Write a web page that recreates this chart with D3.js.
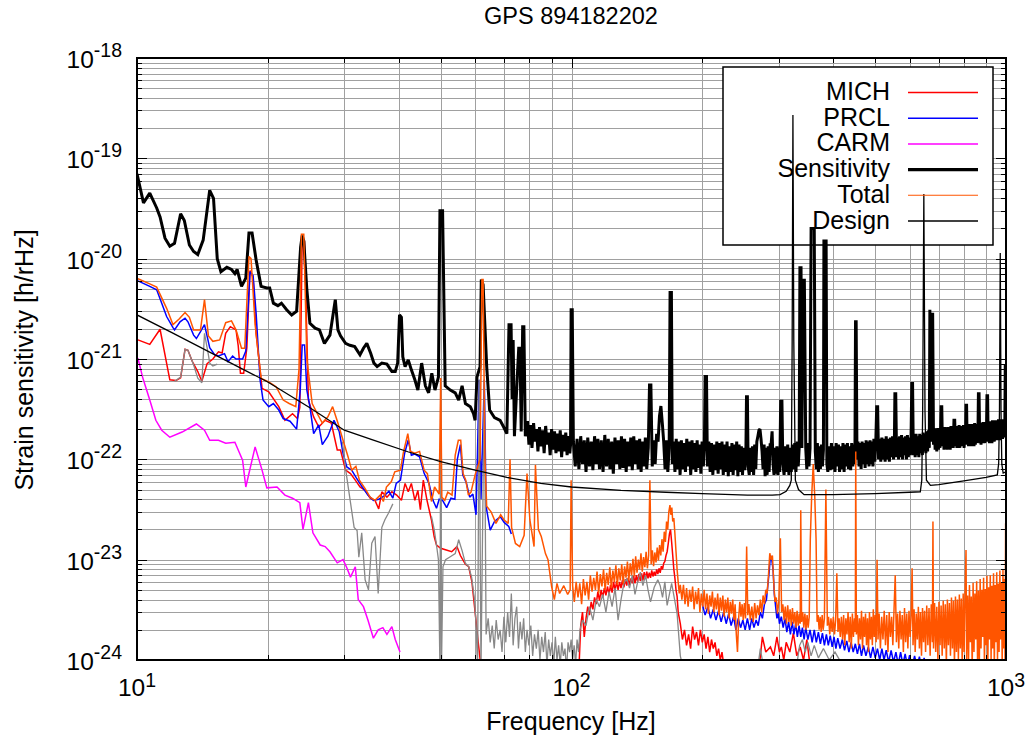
<!DOCTYPE html>
<html>
<head>
<meta charset="utf-8">
<script src="https://cdn.jsdelivr.net/npm/d3@7"></script>
<style>
  body { margin: 0; background: #fff; }
  text { font-family: "Liberation Sans", Arial, Helvetica, sans-serif; fill: #000; }
</style>
</head>
<body>
<svg id="chart" width="1032" height="740"></svg>
<script>
// ---- Spectra: [frequency Hz, strain h/rHz]; null marks a gap in the trace ----
// Low-frequency parts are in h/rHz; the dense high-frequency parts are stored
// in units of 1e-22 (sensitivity) or 1e-24 (noise projections) h/rHz.
const UNIT_22 = 1e-22, UNIT_24 = 1e-24;

const sensitivity = [
[10,7.0e-20],[10.35,3.6e-20],[10.7,4.5e-20],[11.1,3.2e-20],[11.3,2.6e-20],[11.6,1.6e-20],[11.9,1.33e-20],[12.2,1.42e-20],[12.6,2.8e-20],[12.85,2.4e-20],[13.2,1.37e-20],[13.5,1.18e-20],[13.8,1.1e-20],[14.2,1.53e-20],[14.7,4.8e-20],[15.0,4.0e-20],[15.3,1.0e-20],[15.6,7.4e-21],[16.1,8.2e-21],[16.5,7.8e-21],[16.8,7.1e-21],[17.0,7.8e-21],[17.4,5.3e-21],[17.8,6.4e-21],[18.1,1.8e-20],[18.4,1.8e-20],[18.8,9.7e-21],[19.3,5.3e-21],[19.9,5.1e-21],[20.2,5.1e-21],[20.6,3.6e-21],[21.1,3.4e-21],[21.5,3.6e-21],[22.1,3.1e-21],[22.7,2.75e-21],[23.3,3.0e-21],[23.8,1.3e-20],[24.0,1.7e-20],[24.2,1.5e-20],[24.6,4.9e-21],[25.0,2.27e-21],[25.7,2.03e-21],[26.3,1.95e-21],[27.0,1.43e-21],[27.8,1.73e-21],[28.6,3.9e-21],[29.0,1.95e-21],[29.4,1.7e-21],[30.2,1.43e-21],[30.9,1.37e-21],[31.7,1.33e-21],[32.6,1.1e-21],[33.2,1.28e-21],[33.8,1.43e-21],[34.5,1.14e-21],[35.1,9.1e-22],[35.7,8.4e-22],[36.6,9.1e-22],[37.6,8.9e-22],[38.6,7.5e-22],[39.3,7.5e-22],[39.8,9.1e-22],[40.2,2.75e-21],[40.6,2.6e-21],[40.9,1.05e-21],[41.4,8.4e-22],[42.1,9.8e-22],[42.8,7.8e-22],[43.6,6.2e-22],[44.3,4.9e-22],[45.2,9.1e-22],[46.1,5.4e-22],[46.9,4.6e-22],[47.7,7.2e-22],[48.5,4.9e-22],[49.4,6.6e-22],[49.8,3.0e-20],[50.5,3.0e-20],[51.2,5.4e-22],[52.6,4.9e-22],[54.0,4.6e-22],[55.0,3.9e-22],[56.0,5.4e-22],[57.0,3.6e-22],[58.5,3.35e-22],[59.5,2.85e-22],[60.0,2.45e-22],[60.6,6.6e-22],[61.6,8.4e-22],[62.0,6.2e-21],[62.6,5.5e-21],[63.8,8.4e-22],[64.8,3.1e-22],[66.5,2.6e-22],[68.5,2.45e-22],[69.8,2.1e-22],[71.0,1.8e-22],[71.8,2.2e-21],[72.6,2.2e-21],[73.0,4e-22],[73.4,1.55e-21],[73.9,1.7e-22],[74.9,5.7e-22],[75.6,1.28e-21],[76.1,1.28e-21],[76.6,1.9e-22],[77.2,2.1e-21],[77.7,2.1e-21],[78.3,1.7e-22]
];
const sensitivityHF = [ // x 1e-22
[79.2,2.4],[79.8,1.4],[80.5,2.2],[81.1,1.3],[81.8,2.3],[82.4,1.5],[83.1,2.0],[83.7,1.2],[84.4,2.1],[85.1,1.35],[85.8,1.95],[86.5,1.15],[87.2,2.15],[87.9,1.4],[88.6,1.85],[89.3,1.1],[90.0,2.0],[90.7,1.25],[91.4,1.9],[92.1,1.15],[92.8,1.8],[93.5,1.2],[94.2,1.95],[94.9,1.05],[95.6,1.75],[96.3,1.2],[97.0,1.85],[97.7,1.1],[98.4,1.7],[99.1,1.15],[99.5,1.4],[99.8,31],[100.4,31],
[101,1.5],[102,0.85],[103,1.6],[104,0.8],[105,1.7],[106,0.9],[107,1.55],[108,0.75],[109,1.65],[110,0.85],[111,1.5],[112,0.78],[113,1.7],[114,0.9],[115,1.6],[116,0.8],[117.1,1.55],[118.2,0.75],[119.3,1.75],[120.4,0.85],[121.5,1.6],[122.6,0.8],[123.7,1.5],[124.8,0.72],[125.9,1.65],[127,0.9],[128.1,1.55],[129.2,0.8],[130.3,1.7],[131.4,0.82],[132.5,1.6],[133.6,0.75],[134.7,1.5],[135.8,0.85],[136.9,1.65],[138,0.78],[139.1,1.7],[140.2,0.9],[141.3,1.55],[142.4,0.8],[143.5,1.6],[144.6,0.75],[145.7,1.5],[146.8,0.85],[147.9,1.65],[149,0.8],[150.2,1.3],[151.2,5.5],[152.3,5.5],[153.4,0.85],[154.6,1.55],[155.8,0.9],[157,1.8],[158.2,1.5],[159.4,2.7],[160.6,3.4],[161.8,2.3],[163,1.5],[164.2,0.8],[165.4,1.55],[166.6,0.75],[167.8,1.3],[168.6,46],[169.8,46],[170.6,0.9],[171.8,1.5],[173,0.75],[174.2,1.6],[175.4,0.8],[176.6,1.5],[177.8,0.7],[179,1.55],[180.3,0.8],[181.6,1.45],[182.9,0.75],[184.2,1.6],[185.5,0.85],[186.8,1.5],[188.1,0.7],[189.4,1.55],[190.7,0.8],[192,1.45],[193.3,0.75],[194.6,1.55],[195.9,0.82],[197.2,1.4],[198.5,0.72],[199.8,1.5],[201.1,0.85],[202.2,1.3],[203,6.7],[204.5,6.7],[205.5,0.85],[207,1.5],[208.5,0.75],[210,1.45],[211.5,0.7],[213,1.4],[214.5,0.78],[216,1.5],[217.5,0.72],[219,1.45],[220.5,0.8],[222,1.5],[223.5,0.7],[225,1.4],[226.5,0.75],[228,1.5],[229.5,0.68],[231,1.35],[232.5,0.75],[234,1.45],[235.5,0.7],[237,1.4],[238.5,0.78],[240,1.5],[241.5,0.68],[243,1.4],[244.5,0.75],[246,1.35],[247.5,0.7],[249,1.3],[250.5,0.78],[252,1.2],[252.8,4.2],[254,4.2],[255,0.85],[256.5,0.7],[258,1.3],[259.5,0.75],[261,1.35],[262.5,0.7],[264,1.4],[265.5,0.8],[267,1.5],[268.5,1.7],[270,1.95],[271.5,2.0],[273,1.6],[274.5,1.2],[276,0.8],[277.5,1.4],[279,0.68],[280.5,1.3],[282,0.7],[283.5,1.35],[285,0.75],[286.5,1.4],[288,1.4],[289.5,1.9],[291,0.9],[292.5,0.7],[294,1.3],[295.5,0.72],[297,1.35],[298.5,0.7],[300,1.3],[301.5,0.75],[303,3.8],[305,3.8],[306.5,0.9],[308.5,0.7],[310.5,1.35],[312.5,0.75],[314.5,1.4],[316.5,0.7],[318.5,1.3],[320.5,0.75],[322.5,1.4],[324.5,0.8],[326.5,1.45],[328.5,0.75],[330.5,1.5],[332.5,0.85],[334.2,1.3],[335.5,81],[337.5,81],[339,1.3],[341,61],[343.5,61],[346,1.3],[348,0.8],[350,1.45],[352,0.85],[354,1.3],[356,200],[362,200],[364,1.2],[366,0.8],[368,1.45],[370,0.75],[372,1.35],[374,0.8],[376,1.4],[378,0.85],[380,1.25],[381,150],[385.5,150],[387,0.9],[389,0.75],[391.5,1.35],[394,0.78],[396.5,1.45],[399,0.8],[401.5,1.35],[404,0.75],[406.5,1.45],[409,0.85],[411.5,1.4],[414,0.75],[416.5,1.35],[419,0.8],[421.5,1.45],[424,0.75],[426.5,1.4],[429,0.85],[431.5,1.45],[434,0.8],[436.5,1.35],[439,0.78],[441.5,1.45],[444,0.85],[446.5,1.4],[449,0.9],[450.5,23.5],[452,23.5],[454,1.0],[456.5,1.5],[459,0.85],[461.5,1.45],[464,0.8],[466.5,1.5],[469,0.9],[471.5,1.45],[474,0.82],[476.5,1.55],[479,0.9],[481.5,1.5],[484,0.85],[486.5,1.55],[489,0.9],[491.5,1.5],[494,0.85],[496.5,1.6],[499,0.95],[501.5,1.45],[504,3.35],[506.5,3.35],[509,1.0],[512,1.6],[515,0.95],[518,1.65],[521,1.0],[524,1.6],[527,0.95],[530,1.7],[533,1.0],[536,1.6],[539,0.95],[542,1.65],[545,1.05],[548,1.7],[551,1.0],[553.5,1.5],[555,4.5],[557.5,4.5],[560,1.05],[563,1.65],[566,1.0],[569,1.7],[572,1.05],[575,1.75],[578,1.0],[581,1.65],[584,1.1],[587,1.7],[590,1.0],[593,1.75],[596,1.05],[599,1.65],[602,1.1],[604.5,1.6],[607,5.7],[609.5,5.7],[612,1.1],[615,1.75],[618,1.05],[621,1.8],[624,1.1],[627,1.7],[630,1.05],[633,1.8],[636,1.15],[639,1.75],[642,1.1],[645,1.85],[648,1.2],[651,1.8],[654,1.15],[657,1.9],[660,1.2],[663,1.95],[666,1.3],[668,31],[671,1.5],[674,28],[678,28],[681,1.4],[684,2.05],[687,1.25],[690,2.0],[693,1.2],[696,2.05],[699,1.25],[702,1.95],[705,1.3],[707,1.9],[709,3.35],[711.5,3.35],[714,1.35],[717,2.05],[720,1.25],[723,2.1],[726,1.3],[729,2.0],[732,1.25],[735,2.1],[738,1.35],[741,2.05],[744,1.25],[747,2.15],[750,1.35],[753,2.05],[756,1.3],[759,2.45],[762,2.45],[765,1.35],[768,2.15],[771,1.3],[774,2.1],[777,1.35],[780,2.2],[783,1.3],[786,2.1],[789,1.4],[792,2.15],[795,1.35],[798,2.2],[801,1.3],[804,2.15],[806.5,1.45],[809,3.45],[811.5,3.45],[814,1.4],[817,2.2],[820,1.35],[823,2.25],[826,1.4],[829,2.15],[832,1.35],[835,2.25],[838,1.45],[841,2.2],[844,1.35],[847,2.3],[850,1.4],[853,2.2],[856,1.45],[859,2.25],[861.5,1.5],[864,4.5],[867,4.5],[870,1.45],[873,2.3],[876,1.4],[879,2.25],[882,1.45],[885,2.35],[888,1.5],[891,2.25],[894,1.45],[897,2.35],[900,1.5],[902,2.1],[904,4.3],[907,4.3],[910,1.5],[913,2.35],[916,1.45],[919,2.4],[922,1.5],[925,2.35],[928,1.45],[931,2.45],[934,1.55],[937,2.35],[940,1.5],[943,2.45],[946,1.55],[949,2.4],[952,1.6],[955,2.45],[958,1.55],[961,2.5],[964,1.6],[967,2.45],[970,1.55],[973,2.5],[976,1.65],[979,2.45],[982,1.6],[985,2.5],[988,1.65],[991,2.45],[993.5,1.7],[996,8.4],[999,8.4],[1000,2.1]
];

const total = [
[10.05,6.3e-21],[10.7,5.6e-21],[11.1,5.2e-21],[11.7,3.2e-21],[12.1,2.2e-21],[12.5,2.5e-21],[12.9,2.9e-21],[13.2,2.6e-21],[13.5,1.95e-21],[14.0,1.95e-21],[14.3,3.9e-21],[14.6,1.7e-21],[14.95,1.5e-21],[15.5,1.55e-21],[16.0,2.3e-21],[16.5,2.4e-21],[16.9,1.95e-21],[17.4,1.28e-21],[17.7,1.28e-21],[18.1,1.05e-20],[18.3,1.0e-20],[18.7,2.2e-21],[19.3,6.4e-22],[20.1,5.9e-22],[20.9,5.3e-22],[21.7,3.9e-22],[22.4,3.6e-22],[23.2,3.35e-22],[23.6,8e-22],[23.9,1.75e-20],[24.2,1.75e-20],[24.6,1.0e-21],[25.3,3.6e-22],[26.0,2.85e-22],[26.7,2.3e-22],[27.5,2.65e-22],[28.2,3.35e-22],[29.0,2.3e-22],[29.8,1.55e-22],[30.6,1.06e-22],[31.2,7.8e-23],[31.9,8.5e-23],[32.5,6.2e-23],[33.5,5.1e-23],[34.4,4.2e-23],[35.3,3.9e-23],[36.3,4.4e-23],[36.9,3.8e-23],[37.5,5.3e-23],[38.5,6.0e-23],[39.2,7.5e-23],[40.4,7.8e-23],[41.0,1.15e-22],[42.0,1.8e-22],[42.6,1.2e-22],[43.6,1.15e-22],[44.7,1.2e-22],[45.8,7.8e-23],[46.6,7.2e-23],[47.6,3.8e-23],[48.4,5.3e-23],[49.6,4.5e-23],[50.0,6.45e-22],[50.3,4.2e-23],[51.1,3.9e-23],[51.9,4.7e-23],[53.1,4.4e-23],[54.0,1.1e-22],[54.9,1.55e-22],[55.6,1.55e-22],[56.3,7.2e-23],[57.1,6.2e-23],[57.9,4.4e-23],[58.7,4.7e-23],[60.0,7e-23],[61.6,1e-22],[62.2,6.2e-21],[62.6,6.2e-21],[63.2,1e-22],[63.8,3.4e-23],[65.3,3.0e-23],[67.0,2.3e-23],[68.7,2.8e-23],[69.9,2.5e-23],[71.5,2.3e-23],[72.2,1.0e-22],[72.8,2.1e-23],[74.3,1.45e-23],[76.0,1.35e-23],[77.8,1.75e-23],[79.0,7.2e-23],[80.2,2.5e-23],[82.0,1.35e-23],[82.6,8.8e-23],[83.9,2.0e-23],[85.2,1.7e-23],[87.1,1.15e-23],[88.3,1.0e-23],[90.0,5.4e-24],[91.3,4.0e-24],[92.6,5.8e-24],[93.9,4.6e-24],[96,5.5e-24],[98,4.5e-24],[99.3,5e-24],[99.8,6.2e-23]
];
const totalHF = [ // x 1e-24
[100.6,5.5],[101.5,3.8],[102.5,6.0],[103.5,4.2],[104.5,5.8],[105.5,3.6],[106.5,6.4],[107.5,4.4],[108.5,6.0],[109.5,4.0],[110.5,7.0],[111.5,4.8],[112.5,6.6],[113.5,5.0],[114.5,7.6],[115.5,4.6],[116.5,7.2],[117.5,5.4],[118.5,8.0],[119.5,5.0],[120.5,7.4],[121.5,5.6],[122.5,8.4],[123.5,5.2],[124.5,7.8],[125.5,6.0],[126.5,8.8],[127.5,5.6],[128.5,8.2],[129.5,6.2],[130.5,9.0],[131.5,5.8],[132.5,8.6],[133.5,6.6],[134.5,9.6],[135.5,6.2],[136.5,9.2],[137.5,7.0],[138.5,10.2],[139.5,6.8],[140.5,10.8],[141.5,7.4],[142.5,10.0],[143.5,8.0],[144.5,11.6],[145.5,7.6],[146.5,10.6],[147.5,8.4],[148.5,12.0],[149.5,8.2],[150.5,11.0],[151.5,62],[152.5,9.0],[153.5,12.4],[154.5,8.6],[155.5,11.8],[156.5,9.4],[157.5,13.2],[158.5,9.8],[159.5,14.0],[160.5,11.0],[161.5,16.0],[162.5,12.0],[163.5,19.0],[164.5,15.0],[165.5,24.0],[166.5,20.0],[167.5,30.0],[168.5,35.0],[169.3,28.0],[170.2,33.0],[171,24.0],[172,26.0],[173,18.0],[174,12.0],[175,8.0],[176,6.0],[177,4.6],[178,5.6],
[179.5,4.0],[181,5.6],[182.5,3.6],[184,5.2],[185.5,3.4],[187,5.0],[188.5,3.8],[190,5.4],[191.5,3.2],[193,4.8],[194.5,3.6],[196,5.2],[197.5,3.0],[199,4.6],[200.5,3.4],[202,5.0],[203.5,3.2],[205,4.6],[206.5,2.9],[208,4.4],[209.5,3.4],[211,4.8],[212.5,3.0],[214,4.2],[215.5,3.2],[217,4.6],[218.5,2.8],[220,4.2],[221.5,3.1],[223,4.4],[224.5,2.7],[226,4.0],[227.5,3.0],[229,4.2],[230.5,2.6],[232,3.8],[233.5,2.9],[235,4.0],[236.5,2.5],[238,3.6],[239.5,1.8],[241,1.2],[242.5,2.6],[244,3.8],[245.5,2.7],[247,3.6],[248.5,2.5],[250,3.7],[251.5,2.6],[253,13.5],[254.5,2.8],
[256,3.6],[258,2.5],[260,3.4],[262,2.4],[264,3.7],[266,2.6],[268,3.5],[270,2.8],[272,4.0],[274,3.0],[276,4.4],[278,3.6],[280,5.0],[282,4.6],[284,7.0],[286,11.6],[288,10.0],[290,11.0],[292,6.0],[294,3.8],[296,4.2],[298,2.9],[300,3.8],[302.5,16.3],[304.5,3.0],[306.5,3.6],[308.5,2.5],[310.5,3.4],[312.5,2.3],[314.5,3.5],[316.5,2.4],[318.5,3.2],[320.5,2.2],[322.5,3.3],[324.5,2.3],[326.5,3.0],[328.5,2.1],[330.5,3.1],[332.5,2.2],[334.5,2.9],[336,2.3],[337,31],[338.5,2.4],[340.5,3.0],[342.5,2.1],[344.5,2.9],[346.5,2.0],[348.5,2.8],[350.5,2.1],[352.5,2.7],[354.5,16],[357,42],[360,90],[363,42],[365.5,16],[367.5,2.4],[369.5,2.8],[371.5,2.0],[373.5,2.7],[375.5,1.9],[377.5,2.8],[379.5,2.0],[382,2.6],[385,50],[388,2.2],[390.5,2.7],[393,1.8],[395.5,2.6],[398,1.9],[400.5,2.7],[403,1.8],[405.5,2.5],[408,7.3],[410.5,1.9],[413,2.6],[415.5,1.7],[418,2.7],
[420.5,1.6],[423,2.8],[425.5,1.4],[428,2.6],[430.5,1.8],[433,3.0],[435.5,1.5],[438,2.7],[440.5,1.3],[443,2.9],[445.5,1.7],[448,2.6],[450,1.9],[451,120],[452.5,1.8],[455,2.8],[457.5,1.4],[460,2.6],[462.5,1.6],[465,3.1],[467.5,1.3],[470,2.7],[472.5,1.7],[475,2.9],[477.5,1.4],[480,2.6],[482.5,1.2],[485,3.0],[487.5,1.6],[490,2.7],[492.5,1.4],[495,3.2],[497.5,1.7],[500,2.8],[502.5,1.5],[505,10],[507.5,1.6],
[510.5,2.9],[514,1.3],[517.5,2.7],[521,1.6],[524.5,3.1],[528,1.4],[531.5,2.8],[535,1.2],[538.5,3.0],[542,1.7],[545.5,2.7],[549,1.4],[552.5,3.2],[556,7.0],[559.5,1.5],[563,2.9],[566.5,1.3],[570,3.1],[573.5,1.6],[577,2.8],[580.5,1.2],[584,3.3],[587.5,1.5],[591,2.9],[594.5,1.3],[598,3.1],[601.5,1.7],[605,2.8],[608,8.2],[611,1.4],[614.5,3.2],[618,1.2],[621.5,2.9],[625,1.6],[628.5,3.4],[632,1.3],[635.5,3.0],[639,1.1],[642.5,3.3],[646,1.5],[649.5,3.1],
[653,1.2],[657,3.5],[661,1.4],[665,3.3],[669,1.1],[673,3.6],[677,1.5],[679,24],[681,1.3],[685,3.7],[689,1.2],[693,3.4],[697,1.0],[701,3.8],[705,1.4],[709,3.5],[713,1.1],[717,3.9],[721,1.3],[725,3.6],[729,0.9],[733,4.0],[737,1.4],[741,3.7],[745,1.1],[749,4.2],[753,1.3],[757,3.9],[761,0.9],[765,4.3],[769,1.2],[773,4.0],[777,1.0],[781,4.5],[785,1.3],[789,4.1],[793,0.9],[797,4.6],[801,1.2],[805,4.4],[809,12.5],[812,1.0],
[816,4.4],[820,1.0],[824,5.6],[828,1.5],[832,4.3],[836,0.8],[840,5.9],[844,1.2],[848,4.6],[852,1.6],[856,6.1],[860,1.0],[864,4.9],[868,0.8],[872,6.4],[876,1.3],[880,5.0],[884,1.7],[888,6.6],[892,0.9],[896,5.1],[900,1.4],[904,6.9],[908,0.8],[912,5.3],[916,1.6],[920,7.0],[924,1.0],[928,5.5],[932,1.3],[936,7.3],[940,0.8],[944,5.6],[948,1.5],[952,7.5],[956,1.0],[960,5.8],[964,1.2],[968,7.8],[972,1.6],[976,6.0],[980,0.9],[984,7.9],[988,1.3],[992,6.4],[995,1.0],[998,23],[1000,6.5]
];

const mich = [
[10.05,1.55e-21],[10.7,1.4e-21],[11.3,1.98e-21],[11.9,6.2e-22],[12.3,6.1e-22],[12.6,6.5e-22],[12.9,1.25e-21],[13.1,1.22e-21],[13.4,9.5e-22],[13.8,7.5e-22],[14.1,6.0e-22],[14.5,9e-22],[14.95,1.0e-21],[15.4,1.18e-21],[15.7,1.15e-21],[16.0,1.8e-21],[16.4,2.1e-21],[16.9,1.95e-21],[17.1,1.35e-21],[17.3,7.2e-22],[17.6,7.2e-22],[17.9,1.3e-21],[18.2,7.6e-21],[18.5,6.5e-21],[18.8,1.8e-21],[19.4,5.1e-22],[20.1,4.7e-22],[21.2,3.35e-22],[21.9,2.45e-22],[22.8,2.85e-22],[23.4,2.55e-22],[23.7,3.3e-22],[24.0,1.6e-20],[24.3,1.5e-20],[24.8,3.9e-22],[25.5,2.65e-22],[26.2,2.1e-22],[27.1,2.45e-22],[28.0,2.3e-22],[28.9,1.24e-22],[29.4,1.24e-22],[30.2,7.8e-23],[31.0,7.2e-23],[31.8,6.2e-23],[32.6,5.3e-23],[33.5,4.9e-23],[34.4,4.1e-23],[35.3,3.9e-23],[36.0,3.2e-23],[36.6,4.75e-23],[37.6,4.2e-23],[38.6,4.75e-23],[39.6,4.4e-23],[40.6,3.9e-23],[41.4,5.75e-23],[42.1,4.75e-23],[42.8,5.75e-23],[43.6,3.9e-23],[44.3,4.9e-23],[44.9,3.15e-23],[45.6,6.2e-23],[46.5,3.9e-23],[47.6,2.5e-23],[48.3,1.7e-23],[48.9,1.4e-23],[50.0,1.3e-23],[51.5,1.25e-23],[53.0,1.2e-23],[54.5,1.35e-23],[55.5,1.1e-23],[57.0,9e-24],[58.0,8.5e-24],[59.0,6e-24],[60.0,3e-24],[61.0,1.5e-24],[62.0,8e-25]
];
const michHF = [ // x 1e-24
[104,0.8],[105,2.2],[106,3.0],[107,1.7],[108,2.6],[109,3.4],[110,2.8],[111,3.8],[112,3.2],[113,4.2],[114,3.6],[115,4.8],[116,3.9],[117,5.0],[118,4.2],[119,5.2],[120,4.4],[121,5.4],[122,4.5],[123,5.6],[124,4.7],[125,6.0],[126,4.9],[127,6.1],[128,5.0],[129,6.0],[130,5.2],[131,6.3],[132,5.3],[133,6.4],[134,5.5],[135,6.6],[136,5.6],[137,6.5],[138,5.8],[139,6.9],[140,5.8],[141,7.0],[142,6.0],[143,7.2],[144,6.1],[145,7.3],[146,6.2],[147,7.5],[148,6.4],[149,7.6],[150,6.5],[151,7.4],[152,6.6],[153,7.8],[154,6.8],[155,7.6],[156,6.9],[157,8.0],[158,7.2],[159,8.2],[160,7.4],[161,8.6],[162,8.0],[163,9.2],[164,9.6],[165,11],[166,12],[167,14.5],[168,18],[169,20],[170,15],[171,11],[172,8],[173,6.5],[174,5.0],[175,4.3],[176,3.0],[178,2.3],[180,1.6],[182,2.0],[184,1.4],[186,1.8],[188,1.3],[190,2.15],[192,1.6],[194,1.9],[196,1.4],[198,2.0],[200,1.5],[202,1.8],[204,1.3],[206,1.7],[208,1.2],[210,1.6],[212,1.3],[214,1.5],[216,1.1],[218,1.3],[220,1.0],[222,1.2],[224,0.9],[227,0.8],[270,0.8],[275,1.7],[280,1.2],[287,1.35],[292,1.1],[297,1.7],[301,1.2],[304,1.35],[308,1.0],[312,1.5],[318,1.2],[324,1.85],[330,1.1],[336,1.35],[342,1.0],[348,1.6],[355,0.8],[1000,0.8]
];

const prcl = [
[10.05,6.0e-21],[10.7,5.3e-21],[11.1,4.9e-21],[11.4,3.6e-21],[11.7,2.65e-21],[12.1,2.05e-21],[12.2,1.95e-21],[12.56,2.35e-21],[12.9,2.55e-21],[13.1,2.35e-21],[13.5,1.73e-21],[13.7,1.6e-21],[14.0,1.87e-21],[14.3,2.2e-21],[14.7,1.3e-21],[15.1,1.1e-21],[15.4,1.07e-21],[15.9,1.13e-21],[16.2,9.4e-22],[16.6,1.07e-21],[16.9,1.0e-21],[17.5,1.0e-21],[17.8,1.2e-21],[18.2,7.4e-21],[18.5,6.8e-21],[18.8,2.85e-21],[19.2,6.2e-22],[19.5,3.9e-22],[20.1,3.35e-22],[20.6,3.6e-22],[21.2,3.1e-22],[21.7,2.55e-22],[22.5,2.4e-22],[23.3,2.0e-22],[23.75,4.9e-22],[24.0,1.38e-21],[24.3,1.38e-21],[24.6,4.9e-22],[25.0,3.35e-22],[25.5,1.8e-22],[26.2,2.2e-22],[26.7,1.4e-22],[27.5,1.7e-22],[28.4,2.45e-22],[29.2,1.9e-22],[29.8,1.15e-22],[30.4,8.4e-23],[31.2,7.8e-23],[32.0,6.5e-23],[33.0,5.3e-23],[34.0,4.4e-23],[35.0,3.9e-23],[36.0,4.0e-23],[37.0,4.3e-23],[38.0,4.8e-23],[38.8,4.1e-23],[39.5,5.76e-23],[40.4,6.2e-23],[41.3,1.15e-22],[42.1,1.56e-22],[42.8,1.1e-22],[43.6,1.13e-22],[44.7,1.06e-22],[45.8,7.25e-23],[47.0,5.75e-23],[48.0,3.9e-23],[48.9,3.25e-23],[49.6,4.0e-23],[50.5,3.9e-23],[51.6,3.3e-23],[52.8,4.1e-23],[53.9,4.0e-23],[54.6,1.0e-22],[55.5,1.4e-22],[56.2,7e-23],[57.3,5.8e-23],[58.3,4.2e-23],[59.3,4.5e-23],[60.3,2.8e-23],[61.3,6.2e-22],[61.9,4e-23],[63.0,6.2e-22],[63.6,3.4e-23],[65.0,1.97e-23],[66.5,2.4e-23],[68.6,2.68e-23],[70.0,2.35e-23],[71.7,2.15e-23],[72.7,1.8e-23],[73.5,null]
];
const prclHF = [ // x 1e-24
[200,3.6],[203,2.8],[206,3.4],[209,2.6],[212,3.2],[215,2.5],[218,3.1],[221,2.4],[224,3.0],[227,2.3],[230,2.9],[233,2.2],[236,2.7],[239,2.0],[242,2.6],[245,2.1],[248,2.5],[251,2.0],[254,2.6],[257,2.0],[260,2.6],[263,2.1],[266,2.5],[269,2.2],[272,3.0],[275,2.6],[278,3.6],[281,4.0],[283,5.5],[285,7.5],[287,11],[289,10],[291,8],[293,4.5],[295,3.4],[297,2.6],[299,3.0],[301,2.3],[304,2.7],[307,2.1],[310,2.6],[313,1.9],[316,2.4],[319,1.8],[322,2.4],[325,1.8],[328,2.3],[331,1.7],[334,2.2],[337,1.7],[340,2.1],[343,1.6],[346,2.1],[350,1.6],[354,2.0],[358,1.5],[362,2.0],[366,1.5],[370,1.9],[374,1.45],[378,1.85],[382,1.4],[386,1.8],[390,1.4],[394,1.75],[398,1.35],[402,1.7],[406,1.3],[410,1.65],[415,1.3],[420,1.6],[425,1.25],[430,1.55],[435,1.2],[440,1.5],[445,1.2],[450,1.45],[455,1.15],[460,1.45],[465,1.1],[470,1.4],[476,1.1],[482,1.35],[488,1.05],[494,1.35],[500,1.05],[506,1.3],[512,1.0],[518,1.3],[524,1.0],[530,1.25],[537,0.95],[544,1.25],[551,0.95],[558,1.2],[565,0.9],[572,1.2],[579,0.9],[586,1.15],[593,0.88],[600,1.12],[608,0.85],[616,1.1],[624,0.85],[632,1.08],[640,0.8],[648,1.05],[656,0.8],[664,1.02],[672,0.78],[680,0.95],[700,0.8],[1000,0.7]
];

const carm = [
[10.05,1.02e-21],[10.3,6.6e-22],[10.7,3.9e-22],[11.05,2.45e-22],[11.4,1.95e-22],[11.9,1.66e-22],[12.7,1.87e-22],[13.7,2.25e-22],[14.3,1.95e-22],[14.7,1.55e-22],[15.4,1.55e-22],[16.0,1.45e-22],[16.8,1.48e-22],[17.5,9.8e-23],[17.8,5.3e-23],[18.7,1.33e-22],[19.4,7.8e-23],[19.9,5.2e-23],[21.0,5.3e-23],[21.9,4.4e-23],[22.8,4.1e-23],[23.7,3.7e-23],[24.1,2.0e-23],[24.8,3.7e-23],[25.4,1.85e-23],[26.4,1.4e-23],[27.1,1.35e-23],[27.8,1.2e-23],[28.9,9.3e-24],[29.8,1.0e-23],[30.4,8.3e-24],[31.0,6.7e-24],[31.8,8.5e-24],[32.3,4.0e-24],[33.2,3.4e-24],[34.0,2.5e-24],[35.0,1.65e-24],[35.9,2.0e-24],[36.8,2.1e-24],[37.6,1.8e-24],[38.6,2.15e-24],[39.3,1.6e-24],[40.3,1.2e-24]
];

// unlabelled grey trace
const other = [
[12.2,6.0e-22],[12.6,6.6e-22],[12.9,1.25e-21],[13.1,1.22e-21],[13.5,8.7e-22],[13.8,6.45e-22],[14.1,5.8e-22],[14.3,1.8e-21],[14.6,1.1e-21],[14.7,9.1e-22],[14.95,8.5e-22],[15.3,8.9e-22],[15.6,null],
[29.7,1.5e-22],[30.3,7.3e-23],[31.0,3.7e-23],[31.6,2.1e-23],[32.1,1.95e-23],[32.4,1.06e-23],[32.9,1.85e-23],[33.5,6.3e-24],[34.1,5.0e-24],[34.7,1.46e-23],[35.3,1.7e-23],[35.9,4.6e-24],[36.6,2.1e-23],[37.2,2.5e-23],[37.9,2.9e-23],[38.8,3.6e-23],[39.5,null],
[47.6,2.7e-23],[48.3,2.0e-23],[48.9,1.4e-23],[49.4,1.0e-23],[49.8,8e-25],[50.0,6.4e-22],[50.2,8e-25],[50.6,8.5e-24],[51.3,1.0e-23],[52.6,1.07e-23],[54.0,1.15e-23],[55.0,1.58e-23],[56.0,1.23e-23],[57.0,9.2e-24],[58.0,8.5e-24],[58.9,6.7e-24],[59.8,4.0e-24],[60.3,2.3e-24],[60.8,8e-25],[61.3,6.2e-22],[61.9,8e-25],[63.0,6.2e-22]
];
const otherHF = [ // x 1e-24
[63.6,1.8],[64.3,2.6],[65,1.5],[65.7,2.2],[66.4,1.3],[67.1,2.5],[67.8,1.6],[68.5,2.0],[69.2,1.2],[69.9,2.7],[70.6,1.5],[71.3,3.0],[72,1.7],[72.7,4.6],[73.4,1.4],[74.1,2.6],[74.8,3.4],[75.5,1.3],[76.2,2.4],[76.9,1.6],[77.6,2.6],[78.3,1.2],[79,2.0],[79.8,1.4],[80.6,2.2],[81.4,1.1],[82.2,1.8],[83,1.3],[83.8,2.0],[84.6,1.0],[85.4,1.7],[86.2,1.2],[87,1.9],[87.8,0.9],[88.6,1.6],[89.4,1.1],[90.2,1.5],[91,0.9],[91.8,1.7],[92.6,1.0],[93.4,1.4],[94.2,0.9],[95,1.5],[95.8,1.1],[96.6,1.3],[97.4,0.8],[98.2,1.5],[99,1.2],[99.8,1.6],[100.6,1.0],[101.4,1.4],[102.2,0.9],[103,1.6],[103.8,1.2],[104.6,2.0],[106,2.5],[108,2.2],[110,3.4],[112,2.5],[114,4.0],[116,3.4],[118,4.5],[120,3.0],[122,4.8],[124,3.4],[126,5.2],[128,2.5],[130,4.0],[132,5.8],[134,6.5],[136,5.2],[138,7.0],[140,4.5],[142,6.0],[144,7.5],[146,5.5],[148,7.0],[150,5.0],[152,3.8],[155,5.3],[158,6.3],[160,5.5],[162,4.2],[164,6.0],[166,3.5],[170,5.8],[172,4.4],[175,2.9],[178,1.1],[181,0.8],[268,0.8],[272,1.3],[276,0.9],[330,0.9],[335,1.4],[340,1.6],[345,1.2],[350,1.5],[356,1.1],[362,1.4],[370,1.05],[380,1.3],[392,1.0],[404,1.2],[420,0.9],[1000,0.8]
];

const design = [
[10,2.75e-21],[12,1.84e-21],[15,1.12e-21],[20,5.9e-22],[25,3.27e-22],[30,1.95e-22],[35,1.55e-22],[42,1.19e-22],[50,9.5e-23],[60,7.8e-23],[71,6.6e-23],[85,5.76e-23],[100,5.3e-23],[130,4.9e-23],[165,4.7e-23],[200,4.55e-23],[254,4.4e-23],[290,4.4e-23],[302,4.45e-23],[312,4.8e-23],[318,5.5e-23],[320.5,6.2e-23],[322,1.5e-21],[323.3,2.7e-19],[324.8,1.5e-21],[327.5,6.2e-23],[333,5.0e-23],[343,4.45e-23],[400,4.45e-23],[500,4.55e-23],[600,4.7e-23],[635,4.75e-23],[640,6.2e-23],[643,3e-22],[647,4.4e-20],[651,3e-22],[656,6.2e-23],[670,5.5e-23],[700,5.6e-23],[800,6.1e-23],[900,6.6e-23],[955,7.0e-23],[962,9.1e-23],[966,3e-22],[970,1.14e-20],[974,3e-22],[978,9e-23],[985,7.3e-23],[1000,7.5e-23]
];

const xTickExponents = [1, 2, 3];
const yTickExponents = [-18, -19, -20, -21, -22, -23, -24];

// ---- Assemble full traces ----
const scaled = (arr, unit) => arr.map(d => [d[0], d[1] * unit]);
const sensitivityTrace = sensitivity.concat(scaled(sensitivityHF, UNIT_22));
const totalTrace = total.concat(scaled(totalHF, UNIT_24));
const michTrace = mich.concat(scaled(michHF, UNIT_24));
const prclTrace = prcl.concat(scaled(prclHF, UNIT_24));
const otherTrace = other.concat(scaled(otherHF, UNIT_24));

const legendEntries = [
  { label: "MICH",        color: "#ff0000", width: 1.5 },
  { label: "PRCL",        color: "#0000ff", width: 1.5 },
  { label: "CARM",        color: "#ff00ff", width: 1.5 },
  { label: "Sensitivity", color: "#000000", width: 3.2 },
  { label: "Total",       color: "#ff5500", width: 1.1 },
  { label: "Design",      color: "#000000", width: 1.3 }
];

// ---- Layout ----
const L = 137, R = 1006, T = 58, B = 660;
const x = d3.scaleLog().domain([10, 1000]).range([L, R]);
const y = d3.scaleLog().domain([1e-24, 1e-18]).range([B, T]);
const svg = d3.select("#chart");
const LABEL_FONT = 25, TICK_FONT = 24.5, SUP_FONT = 19.5;

svg.append("defs").append("clipPath").attr("id", "plotClip")
  .append("rect").attr("x", L).attr("y", T).attr("width", R - L).attr("height", B - T);

// ---- Grid ----
const grid = svg.append("g").attr("stroke", "#a0a0a0").attr("stroke-width", 1).attr("shape-rendering", "crispEdges");
const xt = x.ticks();
const yt = y.ticks();
grid.selectAll("line.gx").data(xt).join("line")
  .attr("x1", d => Math.round(x(d)) + 0.5).attr("x2", d => Math.round(x(d)) + 0.5)
  .attr("y1", T).attr("y2", B);
grid.selectAll("line.gy").data(yt).join("line")
  .attr("x1", L).attr("x2", R)
  .attr("y1", d => Math.round(y(d)) + 0.5).attr("y2", d => Math.round(y(d)) + 0.5);

// ---- Legend box (traces are drawn over it) ----
const LG = { x: 723, y: 67, w: 270, h: 178 };
svg.append("rect").attr("x", LG.x).attr("y", LG.y).attr("width", LG.w).attr("height", LG.h)
  .attr("fill", "#fff").attr("stroke", "#000").attr("stroke-width", 1.5);

// ---- Traces ----
const line = d3.line()
  .defined(d => d[1] != null)
  .x(d => x(d[0]))
  .y(d => y(d[1]));

const plot = svg.append("g").attr("clip-path", "url(#plotClip)").attr("fill", "none");
function drawTrace(data, color, width) {
  plot.append("path").datum(data)
    .attr("d", line)
    .attr("stroke", color)
    .attr("stroke-width", width)
    .attr("stroke-linejoin", "miter")
    .attr("stroke-miterlimit", 2);
}
drawTrace(michTrace, "#ff0000", 1.5);
drawTrace(prclTrace, "#0000ff", 1.5);
drawTrace(carm, "#ff00ff", 1.5);
drawTrace(otherTrace, "#888888", 1.3);
drawTrace(sensitivityTrace, "#000000", 3);
drawTrace(totalTrace, "#ff5500", 1.5);
drawTrace(design, "#000000", 1.3);

// ---- Legend entries ----
const legend = svg.append("g");
legendEntries.forEach((e, i) => {
  const by = 100 + i * 25.7;
  legend.append("text").attr("x", 890).attr("y", by)
    .attr("text-anchor", "end").attr("font-size", LABEL_FONT).text(e.label);
  legend.append("line").attr("x1", 908).attr("x2", 978)
    .attr("y1", by - 7.5).attr("y2", by - 7.5)
    .attr("stroke", e.color).attr("stroke-width", e.width);
});

// ---- Frame and ticks ----
const axes = svg.append("g").attr("stroke", "#000").attr("shape-rendering", "crispEdges");
const isMajor = v => Math.abs(Math.log10(v) - Math.round(Math.log10(v))) < 1e-6;
xt.forEach(v => {
  const px = Math.round(x(v)) + 0.5, len = isMajor(v) ? 10 : 5;
  axes.append("line").attr("x1", px).attr("x2", px).attr("y1", B).attr("y2", B - len).attr("stroke-width", 1.5);
  axes.append("line").attr("x1", px).attr("x2", px).attr("y1", T).attr("y2", T + len).attr("stroke-width", 1.5);
});
yt.forEach(v => {
  const py = Math.round(y(v)) + 0.5, len = isMajor(v) ? 10 : 5;
  axes.append("line").attr("x1", L).attr("x2", L + len).attr("y1", py).attr("y2", py).attr("stroke-width", 1.5);
  axes.append("line").attr("x1", R).attr("x2", R - len).attr("y1", py).attr("y2", py).attr("stroke-width", 1.5);
});
svg.append("rect").attr("x", L).attr("y", T).attr("width", R - L).attr("height", B - T)
  .attr("fill", "none").attr("stroke", "#000").attr("stroke-width", 2);

// ---- Tick labels ----
yTickExponents.forEach(k => {
  const t = svg.append("text").attr("x", 122).attr("y", y(Math.pow(10, k)) + 10)
    .attr("text-anchor", "end").attr("font-size", TICK_FONT);
  t.append("tspan").text("10");
  t.append("tspan").attr("dy", -11).attr("font-size", SUP_FONT).text(String(k));
});
xTickExponents.forEach(k => {
  const t = svg.append("text").attr("x", x(Math.pow(10, k))).attr("y", 696)
    .attr("text-anchor", "middle").attr("font-size", TICK_FONT);
  t.append("tspan").text("10");
  t.append("tspan").attr("dy", -9).attr("font-size", SUP_FONT).text(String(k));
});

// ---- Titles ----
svg.append("text").attr("x", 571).attr("y", 24).attr("text-anchor", "middle")
  .attr("font-size", 23.5).text("GPS 894182202");
svg.append("text").attr("x", 571).attr("y", 730).attr("text-anchor", "middle")
  .attr("font-size", LABEL_FONT).text("Frequency [Hz]");
svg.append("text").attr("transform", "translate(33,360) rotate(-90)").attr("text-anchor", "middle")
  .attr("font-size", LABEL_FONT).text("Strain sensitivity [h/rHz]");
</script>
</body>
</html>
